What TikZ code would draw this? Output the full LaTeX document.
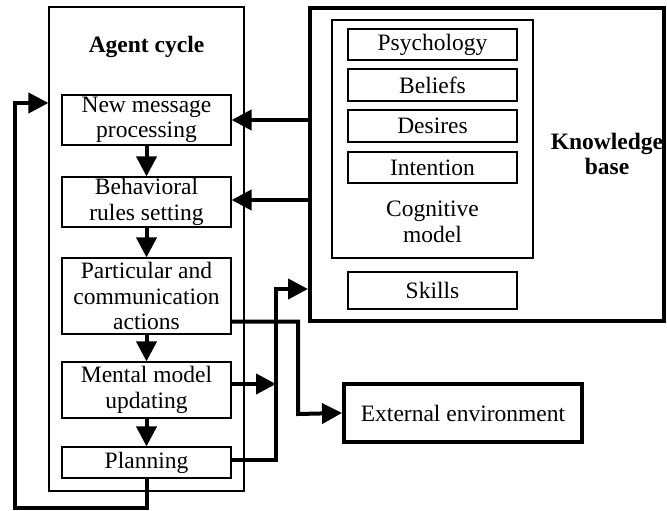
\documentclass[tikz,border=0pt]{standalone}
\usepackage{fontspec}
\setmainfont{Liberation Serif}
\usetikzlibrary{arrows.meta}
\usetikzlibrary{calc}

\begin{document}
\begin{tikzpicture}[x=1pt,y=-1pt,
    font=\fontsize{23.5}{25.5}\selectfont,
    thinbox/.style={draw, line width=1.2pt, inner sep=0pt, align=center},
    stepbox/.style={thinbox, minimum width=169pt},
    bigbox/.style={draw, line width=4pt, inner sep=0pt, align=center},
    flow/.style={line width=4pt, -{Triangle[length=20pt,width=20pt]}}]
	\useasboundingbox (0,0) rectangle (667,511);

	% agent cycle
	\node[thinbox, minimum width=195pt, minimum height=484pt] (agent) at (146.5,249) {};
	\node[font=\fontsize{23.5}{25.5}\selectfont\bfseries] (agenttitle) at (146.5,47) {Agent cycle};
	\begin{scope}[every node/.style={stepbox}]
		\node[minimum height=50pt] (newmsg) at (146.5,120) {New message\\processing};
		\node[minimum height=50pt] (behav) at (146.5,202) {Behavioral\\rules setting};
		\node[minimum height=76pt] (partic) at (146.5,296) {Particular and\\communication\\actions};
		\node[minimum height=56pt] (mental) at (146.5,390) {Mental model\\updating};
		\node[minimum height=31pt] (plan) at (146.5,462.5) {Planning};
	\end{scope}

	% knowledge base
	\node[bigbox, minimum width=354pt, minimum height=313pt] (kb) at (487,164.5) {};
	\node[font=\fontsize{23.5}{25.5}\selectfont\bfseries, align=center] (kbtitle) at (607,154) {Knowledge\\base};
	\node[thinbox, minimum width=201pt, minimum height=238pt] (cog) at (432.5,139) {};
	\node[align=center] (cogtitle) at (432.5,222) {Cognitive\\model};
	\begin{scope}[every node/.style={stepbox}]
		\node[minimum height=31pt] (psych) at (432.5,44.5) {Psychology};
		\node[minimum height=32pt] (beliefs) at (432.5,85) {Beliefs};
		\node[minimum height=32pt] (desires) at (432.5,126) {Desires};
		\node[minimum height=31pt] (intent) at (432.5,167.5) {Intention};
		\node[minimum height=37pt] (skills) at (432.5,290.5) {Skills};
	\end{scope}

	% environment
	\node[bigbox, minimum width=238pt, minimum height=58pt] (env) at (463,413) {External environment};

	\coordinate (bus) at (276,289);
	\coordinate (envbend) at (298,414);
	\coordinate (loop) at (15,103);
	\coordinate (mentalout) at ([yshift=6pt]mental.east);
	\coordinate (particout) at ([yshift=13pt]partic.south east);

	\draw[flow] (newmsg.south) -- (behav.north);
	\draw[flow] (behav.south) -- (partic.north);
	\draw[flow] (partic.south) -- (mental.north);
	\draw[flow] (mental.south) -- (plan.north);

	\draw[flow] (kb.west |- newmsg.east) -- (newmsg.east);
	\draw[flow] ([yshift=2pt]kb.west |- behav.east) -- ([yshift=2pt]behav.east);
	\draw[flow] (particout) -| (envbend) -- (env.west);
	\draw[flow] (mentalout) -- (mentalout -| bus);
	\draw[flow] ([yshift=3pt]plan.east) -| (bus) -- (bus -| kb.west);
	\draw[flow] (plan.south) -- ++(0,29) -| (loop) -- (loop -| agent.west);
\end{tikzpicture}
\end{document}
